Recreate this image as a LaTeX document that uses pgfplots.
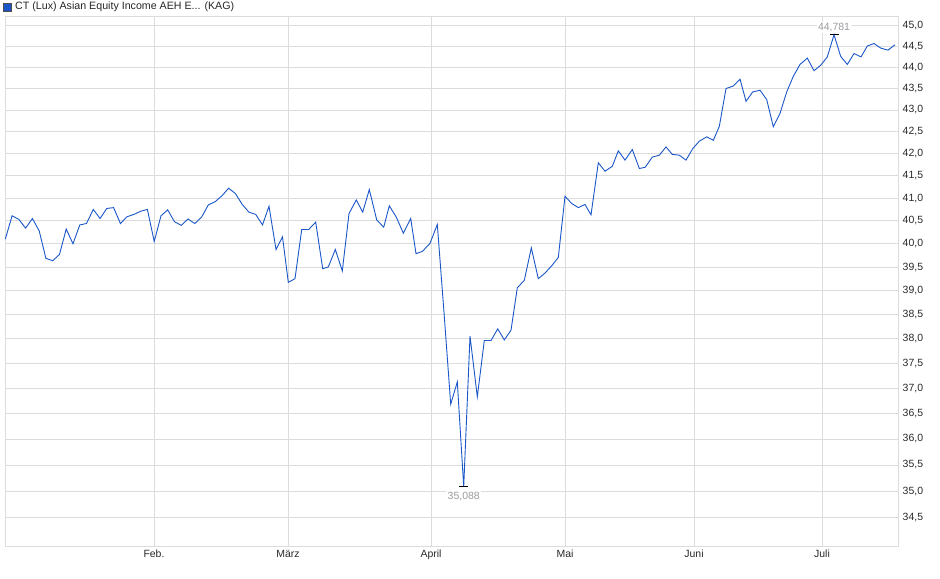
\documentclass[border=0pt]{standalone}
\usepackage{fontspec}
\setmainfont{Liberation Sans}
\usepackage{pgfplots}
\pgfplotsset{compat=1.18}
\definecolor{lineblue}{RGB}{26,86,200}
\definecolor{gridgray}{RGB}{220,220,220}
\definecolor{labgray}{RGB}{155,155,160}
\definecolor{tickgray}{RGB}{40,40,40}
\begin{document}
\begin{tikzpicture}[x=1bp,y=1bp]
\useasboundingbox (0,0) rectangle (940,579);
\fill[lineblue] (3,568) rectangle (11,576);
\draw[black!70,line width=0.6bp] (3,568) rectangle (11,576);
\node[anchor=base west,inner sep=0pt,font=\fontsize{10.7}{12}\selectfont,text=black!85] at (15,569) {CT (Lux) Asian Equity Income AEH E... (KAG)};
\begin{axis}[
  at={(5bp,33bp)}, anchor=south west,
  scale only axis, width=893bp, height=530bp,
  ymode=log,
  xmin=5, xmax=898, ymin=33.98, ymax=45.24,
  axis line style={gridgray, line width=0.8bp},
  grid=major, major grid style={gridgray, line width=0.8bp},
  major tick length=0pt,
  xtick={154,288,431,565,694,822},
  xticklabels={Feb.,März,April,Mai,Juni,Juli},
  ytick={34.5,35,35.5,36,36.5,37,37.5,38,38.5,39,39.5,40,40.5,41,41.5,42,42.5,43,43.5,44,44.5,45},
  yticklabels={{34,5},{35,0},{35,5},{36,0},{36,5},{37,0},{37,5},{38,0},{38,5},{39,0},{39,5},{40,0},{40,5},{41,0},{41,5},{42,0},{42,5},{43,0},{43,5},{44,0},{44,5},{45,0}},
  yticklabel pos=right,
  yticklabel style={anchor=west, inner sep=0pt, xshift=4.5bp, font=\fontsize{10.5}{12}\selectfont, text=tickgray},
  xticklabel style={anchor=base, inner sep=0pt, yshift=-11.5bp, font=\fontsize{10.5}{12}\selectfont, text=tickgray},
  clip=false,
]
\addplot[lineblue, line width=0.9bp, mark=none] coordinates {
(5.3,40.10) (12.1,40.61) (18.9,40.53) (25.6,40.34) (32.4,40.55) (39.2,40.28)
(45.9,39.69) (52.7,39.64) (59.5,39.78) (66.2,40.32) (73.0,40.00) (79.8,40.41)
(86.5,40.44) (93.3,40.75) (100.1,40.55) (106.8,40.77) (113.6,40.79) (120.4,40.44)
(127.1,40.59) (133.9,40.64) (140.7,40.71) (147.4,40.75) (154.2,40.05) (161.0,40.61)
(167.7,40.74) (174.5,40.48) (181.3,40.40) (188.0,40.54) (194.8,40.44) (201.6,40.58)
(208.3,40.85) (215.1,40.92) (221.9,41.05) (228.6,41.22) (235.4,41.10) (242.2,40.86)
(248.9,40.69) (255.7,40.64) (262.5,40.41) (269.0,40.82) (276.0,39.88) (282.5,40.15)
(288.3,39.18) (295.0,39.26) (301.7,40.31) (308.7,40.31) (315.7,40.47) (322.7,39.47)
(328.3,39.51) (335.3,39.88) (342.3,39.42) (349.0,40.66) (356.3,40.96) (362.7,40.69)
(369.3,41.19) (376.7,40.52) (383.7,40.36) (389.3,40.83) (396.3,40.58) (403.3,40.23)
(410.7,40.55) (416.0,39.79) (422.3,39.84) (430.0,40.01) (437.3,40.42) (444.0,38.55)
(450.7,36.68) (457.3,37.13) (463.7,35.088) (470.0,38.06) (477.3,36.83) (484.3,37.97)
(491.0,37.97) (497.7,38.21) (504.3,37.98) (511.0,38.18) (517.3,39.07) (524.3,39.22)
(531.3,39.92) (538.3,39.26) (545.0,39.38) (552.0,39.54) (558.3,39.71) (565.0,41.04)
(571.7,40.88) (578.3,40.79) (585.0,40.86) (591.0,40.63) (598.3,41.79) (605.0,41.60)
(612.3,41.71) (618.3,42.06) (625.0,41.85) (632.3,42.09) (639.3,41.66) (645.3,41.69)
(652.3,41.92) (659.3,41.96) (666.0,42.15) (672.3,41.98) (679.3,41.96) (686.0,41.85)
(692.7,42.11) (699.3,42.28) (706.7,42.38) (713.3,42.30) (719.3,42.62) (726.0,43.50)
(733.3,43.56) (740.0,43.72) (746.0,43.20) (752.7,43.42) (760.0,43.46) (766.7,43.24)
(773.3,42.61) (780.0,42.92) (786.7,43.42) (793.3,43.79) (800.0,44.07) (807.3,44.22)
(814.0,43.92) (820.7,44.05) (827.3,44.25) (834.0,44.781) (840.7,44.26) (847.3,44.07)
(854.0,44.33) (861.0,44.25) (867.3,44.51) (874.0,44.57) (880.7,44.46) (888.0,44.41)
(895.0,44.54)
};
\addplot[only marks, mark=-, mark size=4.5bp, mark options={black, line width=0.9bp},
  nodes near coords={35,088},
  every node near coord/.append style={anchor=north, yshift=-3.5bp, inner sep=1.5bp, fill=white, text=labgray, font=\fontsize{10.5}{12}\selectfont}]
  coordinates {(463.7,35.088)};
\addplot[only marks, mark=-, mark size=4.5bp, mark options={black, line width=0.9bp},
  nodes near coords={44,781},
  every node near coord/.append style={anchor=south, yshift=1bp, inner sep=1.5bp, fill=white, text=labgray, font=\fontsize{10.5}{12}\selectfont}]
  coordinates {(834.0,44.781)};
\end{axis}
\end{tikzpicture}
\end{document}
